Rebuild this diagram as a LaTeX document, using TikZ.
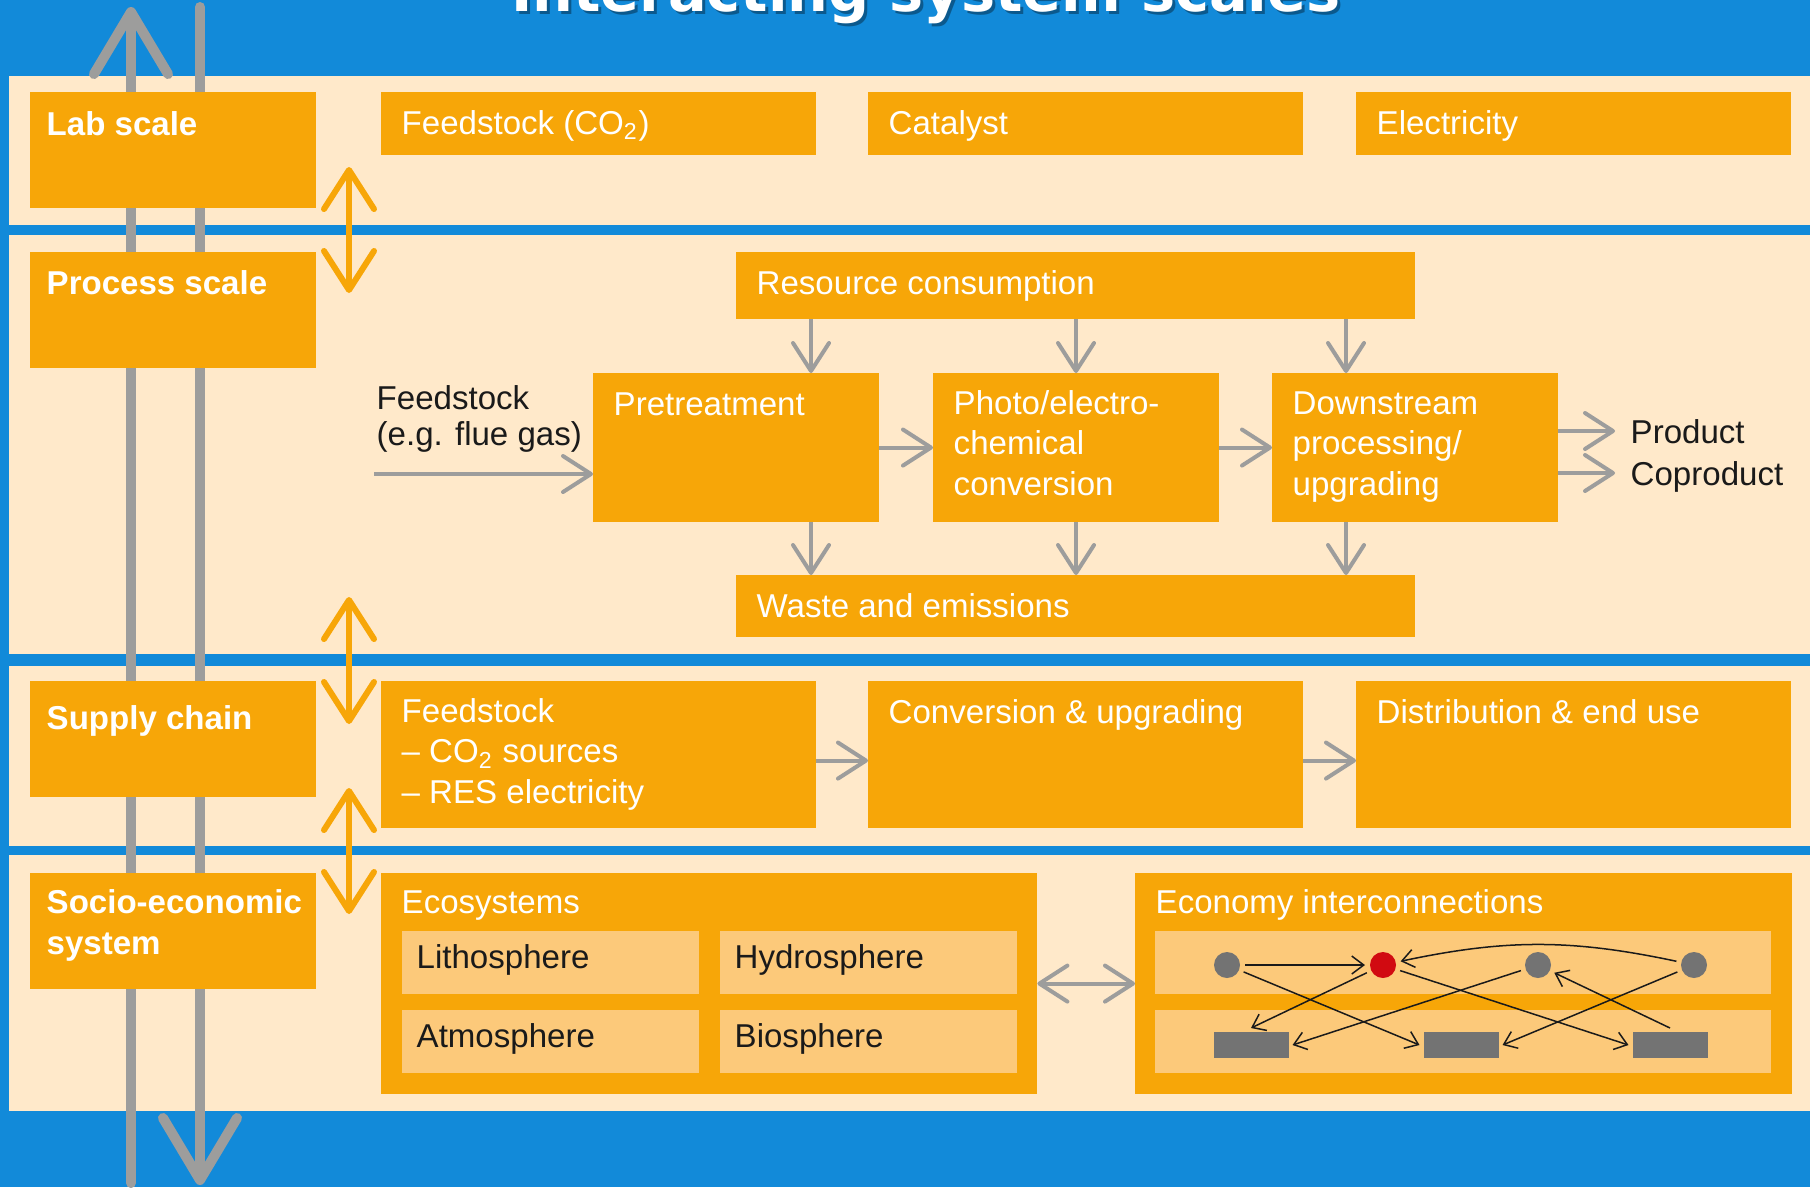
\documentclass[tikz,border=0pt]{standalone}
\usepackage{fontspec}
\setmainfont{Liberation Sans}
\newfontfamily\titlefont{DejaVu Sans}
\usepackage{xcolor}
\usetikzlibrary{arrows.meta}

\definecolor{blu}{RGB}{18,138,217}
\definecolor{pch}{RGB}{255,233,202}
\definecolor{org}{RGB}{247,166,8}
\definecolor{lorg}{RGB}{252,201,122}
\definecolor{gry}{RGB}{157,157,156}
\definecolor{dgry}{RGB}{115,115,115}
\definecolor{rd}{RGB}{209,10,17}
\definecolor{dk}{RGB}{26,26,26}

\begin{document}
\begin{tikzpicture}[x=0.01cm, y=-0.01cm,
		every node/.style={font=\fontsize{9.4}{11.4}\selectfont},
		ttl/.style={anchor=base, font=\titlefont\bfseries\fontsize{16.3}{19}\selectfont},
		box/.style={fill=org, anchor=north west, inner sep=0, outer sep=0},
		subbox/.style={fill=lorg, anchor=north west, inner sep=0, outer sep=0},
		btxt/.style={anchor=base west, align=left, inner sep=0, text=white},
		ltxt/.style={btxt, font=\fontsize{9.4}{11.4}\selectfont\bfseries},
		dtxt/.style={anchor=base west, align=left, inner sep=0, text=dk},
		otxt/.style={anchor=west, inner sep=0.15cm, text=dk, text height=0.24cm, text depth=0cm},
		actor/.style={circle, fill=dgry, minimum size=0.26cm, inner sep=0, outer sep=0.05cm},
		sector/.style={fill=dgry, minimum width=0.75cm, minimum height=0.26cm, inner sep=0, outer sep=0.04cm},
		flow/.style={draw=gry, line width=0.04cm, >={Straight Barb[length=0.28cm, width=0.36cm, round]}, ->},
		flows/.style={flow, <->},
		tier/.style={draw=org, line width=0.06cm, >={Straight Barb[length=0.39cm, width=0.5cm, round]}, <->},
		trunk/.style={draw=gry, line width=0.1cm, line cap=round, >={Straight Barb[length=0.62cm, width=0.74cm, round]}, ->},
		ecolink/.style={draw=dk, line width=0.015cm, >={Straight Barb[length=0.12cm, width=0.18cm]}, ->}]

	\clip (0,0) rectangle (1810,1187);
	\fill[blu] (0,0) rectangle (1810,1187);
	\foreach \t/\b in {76/225, 235/654, 666/846, 855/1111}
		\fill[pch] (9,\t) rectangle (1810,\b);

	\node[ttl, text=black, text opacity=0.35] (shadow) at (929,14) {Interacting system scales};
	\node[ttl, text=white] (title) at (926,11) {Interacting system scales};

	% the two axes across all scales
	\coordinate (upS) at (131,1183);
	\coordinate (upE) at (131,7);
	\coordinate (dnS) at (200,7);
	\coordinate (dnE) at (200,1185);
	\draw[trunk] (upS) -- (upE);
	\draw[trunk] (dnS) -- (dnE);

	% base offsets count to the last line of a text
	\foreach \n/\y/\d/\t in {lab/92/43/Lab scale, proc/252/42/Process scale, supply/681/48/Supply chain, socio/873/81/{Socio-economic\\system}} {
		\node[box, minimum width=2.86cm, minimum height=1.16cm] (\n) at (30,\y) {};
		\node[ltxt] at ([shift={(16,\d)}]\n.north west) {\t};
	}

	\foreach \i/\a/\b in {1/167/293, 2/597/724, 3/788/914} {
		\coordinate (t\i a) at (349,\a);
		\coordinate (t\i b) at (349,\b);
		\draw[tier] (t\i a) -- (t\i b);
	}

	% lab scale
	\foreach \n/\x/\t in {feed/381/{Feedstock (CO\textsubscript{2})}, cat/868/Catalyst, elec/1356/Electricity} {
		\node[box, minimum width=4.35cm, minimum height=0.63cm] (\n) at (\x,92) {};
		\node[btxt] at ([shift={(20,42)}]\n.north west) {\t};
	}

	% process scale
	\node[box, minimum width=6.79cm, minimum height=0.67cm] (res) at (736,252) {};
	\node[btxt] at ([shift={(20,42)}]res.north west) {Resource consumption};
	\foreach \n/\x/\d/\t in {pre/593/42/Pretreatment, conv/933/122/{Photo/electro-\\chemical\\conversion}, down/1272/122/{Downstream\\processing/\\upgrading}} {
		\node[box, minimum width=2.86cm, minimum height=1.49cm] (\n) at (\x,373) {};
		\node[btxt] at ([shift={(20,\d)}]\n.north west) {\t};
	}
	\node[box, minimum width=6.79cm, minimum height=0.62cm] (waste) at (736,575) {};
	\node[btxt] at ([shift={(20,42)}]waste.north west) {Waste and emissions};

	\node[dtxt] (fsrc) at (376,445) {Feedstock\\[-0.05cm](e.g. flue gas)};
	\coordinate (fin) at (374,474);
	\node[otxt] (prod) at (1615,431) {Product};
	\node[otxt] (coprod) at (1615,473) {Coproduct};

	\draw[flow] (fin) -- (fin -| pre.west);
	\draw[flow] (pre) -- (conv);
	\draw[flow] (conv) -- (down);
	\draw[flow] (down.east |- prod) -- (prod);
	\draw[flow] (down.east |- coprod) -- (coprod);
	\foreach \x/\n in {811/pre, 1076/conv, 1346/down} {
		\draw[flow] (res.south -| \x,0) -- (\n.north -| \x,0);
		\draw[flow] (\n.south -| \x,0) -- (waste.north -| \x,0);
	}

	% supply chain
	\foreach \n/\x/\d/\t in {sfeed/381/122/{Feedstock\\-- CO\textsubscript{2} sources\\-- RES electricity}, sconv/868/42/Conversion \& upgrading, sdist/1356/42/Distribution \& end use} {
		\node[box, minimum width=4.35cm, minimum height=1.47cm] (\n) at (\x,681) {};
		\node[btxt] at ([shift={(20,\d)}]\n.north west) {\t};
	}
	\draw[flow] ([yshift=-0.06cm]sfeed.east) -- ([yshift=-0.06cm]sconv.west);
	\draw[flow] ([yshift=-0.06cm]sconv.east) -- ([yshift=-0.06cm]sdist.west);

	% socio-economic system
	\node[box, minimum width=6.56cm, minimum height=2.21cm] (eco) at (381,873) {};
	\node[btxt] at ([shift={(20,40)}]eco.north west) {Ecosystems};
	\foreach \n/\x/\y/\t in {lith/402/931/Lithosphere, hyd/720/931/Hydrosphere, atm/402/1010/Atmosphere, bio/720/1010/Biosphere} {
		\node[subbox, minimum width=2.97cm, minimum height=0.63cm] (\n) at (\x,\y) {};
		\node[dtxt] at ([shift={(14,37)}]\n.north west) {\t};
	}

	\node[box, minimum width=6.57cm, minimum height=2.21cm] (econ) at (1135,873) {};
	\node[btxt] at ([shift={(20,40)}]econ.north west) {Economy interconnections};
	\node[subbox, minimum width=6.16cm, minimum height=0.63cm] (strip1) at (1155,931) {};
	\node[subbox, minimum width=6.16cm, minimum height=0.63cm] (strip2) at (1155,1010) {};

	\draw[flows] (eco) -- (econ);

	\node[actor] (c1) at (1227,965) {};
	\node[actor, fill=rd] (c2) at (1383,965) {};
	\node[actor] (c3) at (1538,965) {};
	\node[actor] (c4) at (1694,965) {};
	\node[sector] (r1) at (1251,1045) {};
	\node[sector] (r2) at (1461,1045) {};
	\node[sector] (r3) at (1670,1045) {};

	\draw[ecolink] (c1) -- (c2);
	\draw[ecolink] (c1) -- (r2.west);
	\draw[ecolink] (c2) -- (r1.north);
	\draw[ecolink] (c2) -- (r3.west);
	\draw[ecolink] (c3) -- (r1.east);
	\draw[ecolink] (c4) -- (r2.east);
	\draw[ecolink] (r3.north) -- (c3);
	\draw[ecolink] (c4) to[bend right=12] (c2);

\end{tikzpicture}
\end{document}
